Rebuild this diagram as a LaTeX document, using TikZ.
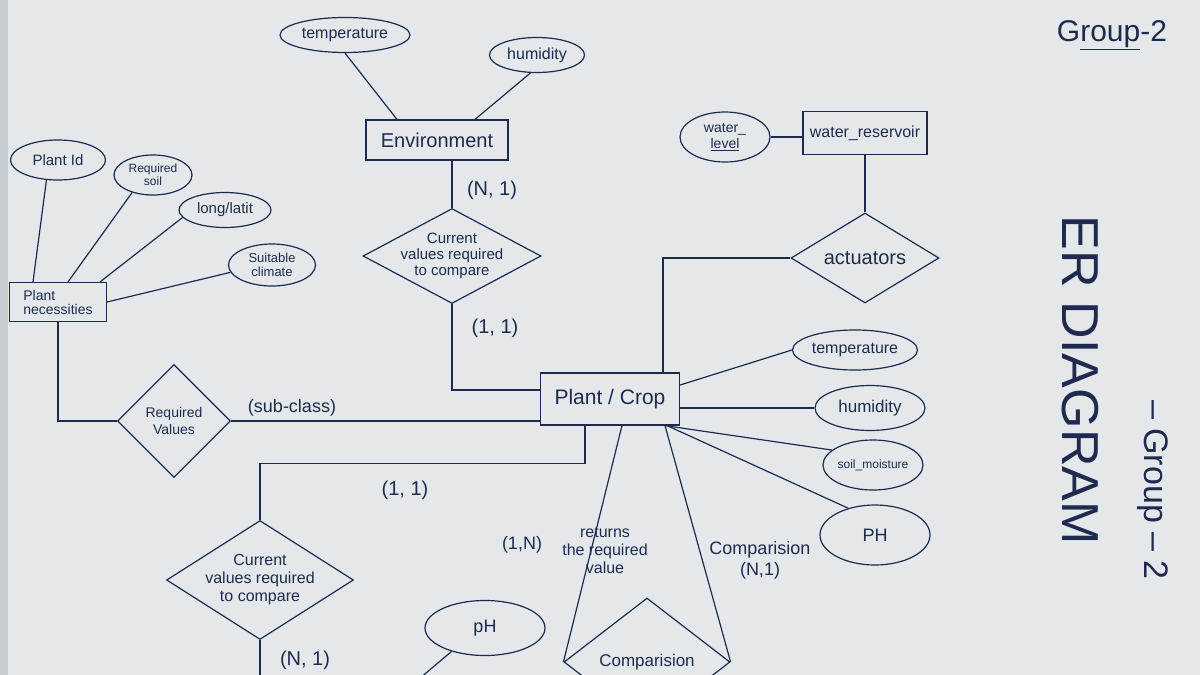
\documentclass[tikz,border=0pt]{standalone}
\usepackage{fontspec}
\setmainfont{Liberation Sans}
\usetikzlibrary{shapes.geometric, positioning}
\definecolor{paper}{RGB}{228,232,234}
\definecolor{edgegrey}{RGB}{200,205,210}
\definecolor{ink}{RGB}{32,42,78}

\begin{document}
\begin{tikzpicture}[
    x=1pt, y=-1pt,
    entity/.style={draw=ink, line width=1.2pt, rectangle, inner sep=2pt, text=ink, font=\fontsize{14}{16}\selectfont},
    attrib/.style={draw=ink, line width=1.2pt, ellipse, inner sep=0pt, text=ink, font=\fontsize{12}{13}\selectfont, align=center},
    rel/.style={draw=ink, line width=1.2pt, diamond, inner sep=0pt},
    reltext/.style={text=ink, font=\fontsize{12}{13}\selectfont, align=center},
    card/.style={text=ink, font=\fontsize{20}{22}\selectfont},
    link/.style={draw=ink, line width=1.2pt}
]
    % Paper
    \useasboundingbox (0,0) rectangle (1200,675);
    \fill[paper] (0,0) rectangle (1200,675);
    \fill[edgegrey] (0,0) rectangle (8,675);
    \clip (0,0) rectangle (1200,675);

    % Entities
    \node[entity, minimum width=97, minimum height=39, align=left, font=\fontsize{14}{14}\selectfont] (plantnec) at (58,302) {Plant\\necessities};
    \node[entity, minimum width=142, minimum height=40, font=\fontsize{20}{22}\selectfont] (env) at (437,140) {Environment};
    \node[entity, minimum width=124, minimum height=43, font=\fontsize{16}{18}\selectfont] (wres) at (865,133) {water\_reservoir};
    \node[entity, minimum width=139, minimum height=52, font=\fontsize{21}{23}\selectfont] (crop) at (610,399) {Plant / Crop};

    % Attributes of Plant necessities
    \node[attrib, minimum width=95, minimum height=40, font=\fontsize{15}{16}\selectfont] (pid) at (58,160) {Plant Id};
    \node[attrib, minimum width=78, minimum height=40, font=\fontsize{12}{13}\selectfont] (rsoil) at (153,175) {Required\\soil};
    \node[attrib, minimum width=92, minimum height=35, font=\fontsize{15}{16}\selectfont] (longlat) at (225,210) {long/latit};
    \node[attrib, minimum width=87, minimum height=42, font=\fontsize{13}{14}\selectfont] (suitclim) at (272,265) {Suitable\\climate};

    % Attributes of Environment
    \node[attrib, minimum width=130, minimum height=35, font=\fontsize{16}{17}\selectfont] (ttop) at (345,35) {temperature};
    \node[attrib, minimum width=95, minimum height=35, font=\fontsize{16}{17}\selectfont] (htop) at (537,55) {humidity};

    % Attribute of water reservoir
    \node[attrib, minimum width=90, minimum height=50, font=\fontsize{14}{16}\selectfont] (wlev) at (725,137) {water\_\\\underline{level}};

    % Attributes of Plant / Crop
    \node[attrib, minimum width=125, minimum height=40, font=\fontsize{16}{17}\selectfont] (tright) at (855,350) {temperature};
    \node[attrib, minimum width=110, minimum height=45, font=\fontsize{17}{18}\selectfont] (hright) at (870,408) {humidity};
    \node[attrib, minimum width=100, minimum height=50, font=\fontsize{12}{13}\selectfont] (smois) at (873,465) {soil\_moisture};
    \node[attrib, minimum width=110, minimum height=60, font=\fontsize{18}{19}\selectfont] (phr) at (875,535) {PH};
    \node[attrib, minimum width=120, minimum height=55, font=\fontsize{18}{19}\selectfont] (phbot) at (485,628) {pH};

    % Relationships
    \node[rel, minimum width=178, minimum height=95] (curtop) at (452,256) {};
    \node[reltext, font=\fontsize{15}{16}\selectfont] (curtoptxt) at (curtop) {Current\\values required\\to compare};
    \node[rel, minimum width=148, minimum height=90] (act) at (865,258) {};
    \node[reltext, font=\fontsize{20}{22}\selectfont] (acttxt) at (act) {actuators};
    \node[rel, minimum width=113, minimum height=113] (reqval) at (174,421) {};
    \node[reltext, font=\fontsize{14}{17}\selectfont] (reqvaltxt) at (reqval) {Required\\Values};
    \node[rel, minimum width=187, minimum height=119] (curbot) at (260,580) {};
    \node[reltext, font=\fontsize{16}{18}\selectfont] (curbottxt) at (curbot) {Current\\values required\\to compare};
    \node[rel, minimum width=166, minimum height=128] (cmpbot) at (647,662) {};
    \node[reltext, font=\fontsize{17}{19}\selectfont] (cmpbottxt) at (cmpbot) {Comparision};

    % Connectors
    \draw[link] (pid.240) -- ([xshift=-25]plantnec.north);
    \draw[link] (rsoil.220) -- ([xshift=10]plantnec.north);
    \draw[link] (longlat.190) -- ([xshift=42]plantnec.north);
    \draw[link] (suitclim.190) -- (plantnec.east);
    \draw[link] (plantnec.south) |- (reqval.west);
    \draw[link] (reqval.east) -- (reqval.east -| crop.west);
    \draw[link] (ttop.south) -- ([xshift=-40]env.north);
    \draw[link] (htop.250) -- ([xshift=38]env.north);
    \draw[link] (curtop.north |- env.south) -- (curtop.north);
    \draw[link] (curtop.south) |- ([yshift=9]crop.west);
    \draw[link] (wlev.east) -- (wlev.east -| wres.west);
    \draw[link] (wres.south) -- (act.north);
    \draw[link] (act.west) -| ([xshift=53]crop.north);
    \draw[link] ([yshift=14]crop.east) -- (tright.west);
    \draw[link] (crop.east |- hright.west) -- (hright.west);
    \draw[link] ([xshift=55]crop.south) -- (smois.160);
    \draw[link] ([xshift=57]crop.south) -- (phr.135);
    \draw[link] ([xshift=-25]crop.south) -- ++(0,38) -| (curbot.north);
    \draw[link] (curbot.south) -- ++(0,40);
    \draw[link] (phbot.215) -- ++(-65,55);
    \draw[link] ([xshift=12]crop.south) -- (cmpbot.west);
    \draw[link] ([xshift=55]crop.south) -- (cmpbot.east);

    % Cardinalities and labels
    \node[card, font=\fontsize{18}{20}\selectfont] (subcls) at (292,408) {(sub-class)};
    \node[card] (cardenv) at (492,190) {(N, 1)};
    \node[card] (cardtop) at (495,328) {(1, 1)};
    \node[card] (cardbot) at (405,490) {(1, 1)};
    \node[card] (cardcur) at (305,660) {(N, 1)};
    \node[reltext, font=\fontsize{16}{18}\selectfont] (rettxt) at (605,550) {returns\\the required\\value};
    \node[card, font=\fontsize{18}{20}\selectfont] (cardret) at (522,545) {(1,N)};
    \node[reltext, font=\fontsize{18}{21}\selectfont] (cmptxt) at (760,560) {Comparision\\(N,1)};

    % Titles
    \node[text=ink, font=\fontsize{30}{32}\selectfont] (grp) at (1112,35) {G\underline{roup}-2};
    \node[text=ink, rotate=-90, font=\fontsize{52}{54}\selectfont] (erd) at (1080,380) {ER DIAGRAM};
    \node[text=ink, rotate=-90, font=\fontsize{34}{36}\selectfont] (grp2) at (1153,490) {-- Group -- 2};
\end{tikzpicture}
\end{document}
